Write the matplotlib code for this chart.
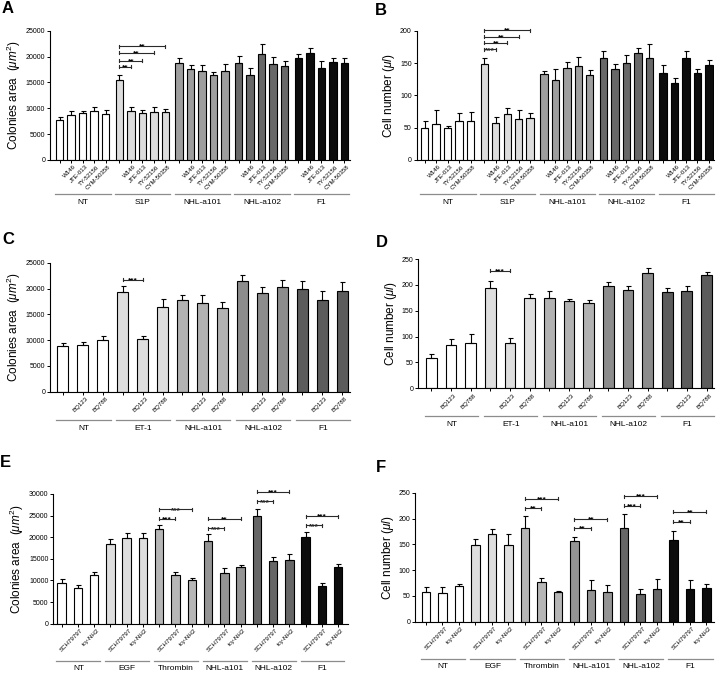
import matplotlib
matplotlib.use("Agg")
import matplotlib.pyplot as plt
import matplotlib.transforms as mtransforms
import numpy as np

plt.rcParams['font.family'] = ['Liberation Sans', 'DejaVu Sans']
plt.rcParams['mathtext.fontset'] = 'custom'
plt.rcParams['mathtext.rm'] = 'Liberation Sans'
plt.rcParams['mathtext.it'] = 'Liberation Sans:italic'

# ---------------- DATA ----------------
# Panel A / B
groups_AB = ["NT", "S1P", "NHL-a101", "NHL-a102", "F1"]
sub_AB = ["", "W146", "JTE-013", "TY-52156", "CYM-50358"]
vals_A = [7800, 8700, 9000, 9500, 8800,
          15500, 9400, 9100, 9200, 9200,
          18700, 17600, 17300, 16400, 17300,
          18800, 16400, 20500, 18600, 18200,
          19700, 20600, 17700, 19000, 18700]
errs_A = [600, 700, 500, 800, 800,
          1000, 900, 600, 1000, 700,
          1000, 800, 1100, 600, 1200,
          1300, 1300, 2000, 1400, 900,
          700, 1100, 1400, 800, 1100]
vals_B = [50, 55, 49, 60, 60,
          148, 57, 71, 63, 65,
          133, 124, 143, 146, 131,
          157, 140, 150, 166, 157,
          135, 119, 157, 135, 147]
errs_B = [11, 23, 4, 12, 14,
          9, 9, 10, 15, 7,
          4, 17, 9, 14, 8,
          11, 9, 13, 8, 23,
          12, 8, 12, 6, 8]
sig_A = [(5, 6, 18000, "**"), (5, 7, 19200, "**"), (5, 8, 20700, "**"), (5, 9, 22000, "**")]
sig_B = [(5, 6, 171, "***"), (5, 7, 181, "**"), (5, 8, 191, "**"), (5, 9, 201, "**")]

# Panel C / D
groups_CD = ["NT", "ET-1", "NHL-a101", "NHL-a102", "F1"]
sub_CD = ["", "BQ123", "BQ788"]
vals_C = [8900, 9000, 10100,
          19400, 10200, 16400,
          17700, 17200, 16200,
          21400, 19100, 20300,
          19900, 17700, 19500]
errs_C = [600, 600, 600,
          1000, 600, 1500,
          1100, 1500, 1200,
          1300, 1100, 1400,
          1500, 1900, 1800]
vals_D = [58, 84, 87,
          194, 87, 175,
          174, 168, 165,
          197, 191, 223,
          186, 189, 219]
errs_D = [9, 11, 18,
          14, 11, 7,
          14, 5, 5,
          8, 7, 9,
          8, 9, 6]
sig_C = [(3, 4, 21700, "***")]
sig_D = [(3, 4, 227, "***")]

# Panel E / F
groups_EF = ["NT", "EGF", "Thrombin", "NHL-a101", "NHL-a102", "F1"]
sub_EF = ["", "SCH79797", "tcy-NH2"]
vals_E = [9400, 8300, 11300,
          18400, 19900, 19800,
          22000, 11300, 10100,
          19200, 11700, 13000,
          24900, 14500, 14700,
          20000, 8700, 13000]
errs_E = [900, 600, 700,
          1300, 1000, 1200,
          900, 600, 400,
          1600, 1100, 600,
          1700, 900, 1400,
          1100, 700, 800]
vals_F = [58, 56, 69,
          149, 169, 148,
          181, 77, 58,
          156, 61, 58,
          181, 54, 63,
          159, 64, 66]
errs_F = [9, 11, 4,
          12, 10, 22,
          24, 7, 2,
          9, 19, 13,
          28, 9, 19,
          17, 16, 8]
sig_E = [(6, 7, 24300, "***"), (6, 8, 26450, "***"),
         (9, 10, 22050, "***"), (9, 11, 24300, "**"),
         (12, 13, 28300, "***"), (12, 14, 30500, "***"),
         (15, 16, 22750, "***"), (15, 17, 24900, "***")]
sig_F = [(6, 7, 220, "**"), (6, 8, 238, "***"),
         (9, 10, 181, "**"), (9, 11, 199, "**"),
         (12, 13, 225, "***"), (12, 14, 243, "***"),
         (15, 16, 194, "**"), (15, 17, 213, "**")]

colors_AB = ["#ffffff", "#dcdcdc", "#9e9e9e", "#686868", "#0c0c0c"]
colors_CD = ["#ffffff", "#dedede", "#b2b2b2", "#8c8c8c", "#5c5c5c"]
colors_EF = ["#ffffff", "#dedede", "#b6b6b6", "#949494", "#666666", "#0c0c0c"]

W, H = 718, 674
fig = plt.figure(figsize=(W / 100, H / 100), dpi=100)

YL_AREA = r"Colonies area  ($\mu m^2$)"
YL_CELL = r"Cell number ($\mu l$)"


def panel(left, right, top, bottom, xlim, ylim, yticks, ylabel, groups, subs,
          vals, errs, colors, gstep, width, sigs, letter, lxy, line_dy, lab_dy):
    ax = fig.add_axes([left / W, (H - bottom) / H, (right - left) / W, (bottom - top) / H])
    nb = len(subs)
    pos, cols, labs = [], [], []
    for g in range(len(groups)):
        for i in range(nb):
            pos.append(g * gstep + i)
            cols.append(colors[g])
            labs.append(subs[i])
    pos = np.array(pos, dtype=float)
    ax.bar(pos, vals, width=width, color=cols, edgecolor="black", linewidth=0.8, zorder=2)
    ax.errorbar(pos, vals, yerr=[np.zeros(len(vals)), errs], fmt="none",
                ecolor="black", elinewidth=0.8, capsize=1.8, capthick=0.8, zorder=3)
    ax.set_xlim(*xlim)
    ax.set_ylim(*ylim)
    ax.set_yticks(yticks)
    ax.tick_params(axis="y", direction="out", length=2.5, width=0.7, labelsize=5, pad=1)
    ax.tick_params(axis="x", direction="out", length=2, width=0.7, pad=1)
    ax.set_xticks(pos)
    ax.set_xticklabels(labs, rotation=45, ha="right", va="top",
                       rotation_mode="anchor", fontsize=4.4)
    off = mtransforms.ScaledTranslation(2.5 / 100, 0, fig.dpi_scale_trans)
    for t in ax.get_xticklabels():
        t.set_transform(t.get_transform() + off)
    for s in ["top", "right"]:
        ax.spines[s].set_visible(False)
    for s in ["left", "bottom"]:
        ax.spines[s].set_linewidth(0.8)
    ax.set_ylabel(ylabel, fontsize=8.5, labelpad=2)
    hpx = bottom - top
    tr = mtransforms.blended_transform_factory(ax.transData, ax.transAxes)
    for g, name in enumerate(groups):
        x0 = pos[g * nb] - width / 2 - 0.05
        x1 = pos[g * nb + nb - 1] + width / 2 + 0.12
        ax.plot([x0, x1], [-line_dy / hpx] * 2, transform=tr, color="#8c8c8c",
                lw=0.9, clip_on=False)
        ax.text((x0 + x1) / 2, -lab_dy / hpx, name, transform=tr, ha="center",
                va="center", fontsize=6)
    yr = ylim[1] - ylim[0]
    tick = yr * 1.5 / hpx
    for (i, j, y, s) in sigs:
        ax.plot([pos[i], pos[j]], [y, y], color="#2a2a2a", lw=0.8, clip_on=False, zorder=4)
        for p in (pos[i], pos[j]):
            ax.plot([p, p], [y - tick, y + tick], color="#2a2a2a", lw=0.8,
                    clip_on=False, zorder=4)
        ax.text((pos[i] + pos[j]) / 2, y - yr * 2.4 / hpx, s, ha="center", va="baseline",
                fontsize=6, fontweight="bold", clip_on=False)
    fig.text(lxy[0] / W, 1 - lxy[1] / H, letter, fontsize=12, fontweight="bold",
             ha="left", va="top")
    return ax


panel(50, 350, 30.7, 160, (-0.85, 25.3), (0, 25000), range(0, 25001, 5000), YL_AREA,
      groups_AB, sub_AB, vals_A, errs_A, colors_AB, 5.2, 0.65, sig_A, "A", (2, 1), 34, 42)
panel(416.7, 714.4, 30.7, 160, (-0.70, 25.28), (0, 200), range(0, 201, 50), YL_CELL,
      groups_AB, sub_AB, vals_B, errs_B, colors_AB, 5.2, 0.65, sig_B, "B", (375, 3), 34, 42)
panel(50, 349.7, 262.7, 391.7, (-0.64, 14.38), (0, 25000), range(0, 25001, 5000), YL_AREA,
      groups_CD, sub_CD, vals_C, errs_C, colors_CD, 3, 0.55, sig_C, "C", (2, 232), 28, 37)
panel(418.3, 714, 259, 388.3, (-0.667, 14.38), (0, 250), range(0, 251, 50), YL_CELL,
      groups_CD, sub_CD, vals_D, errs_D, colors_CD, 3, 0.55, sig_D, "D", (376, 235), 28, 36)
panel(53.3, 348, 494, 623.7, (-0.506, 17.6), (0, 30000), range(0, 30001, 5000), YL_AREA,
      groups_EF, sub_EF, vals_E, errs_E, colors_EF, 3, 0.52, sig_E, "E", (0, 455), 37, 45)
panel(415, 714, 492.7, 621.7, (-0.663, 17.46), (0, 250), range(0, 251, 50), YL_CELL,
      groups_EF, sub_EF, vals_F, errs_F, colors_EF, 3, 0.52, sig_F, "F", (376, 460), 37, 45)

fig.savefig("out.png", dpi=100)
